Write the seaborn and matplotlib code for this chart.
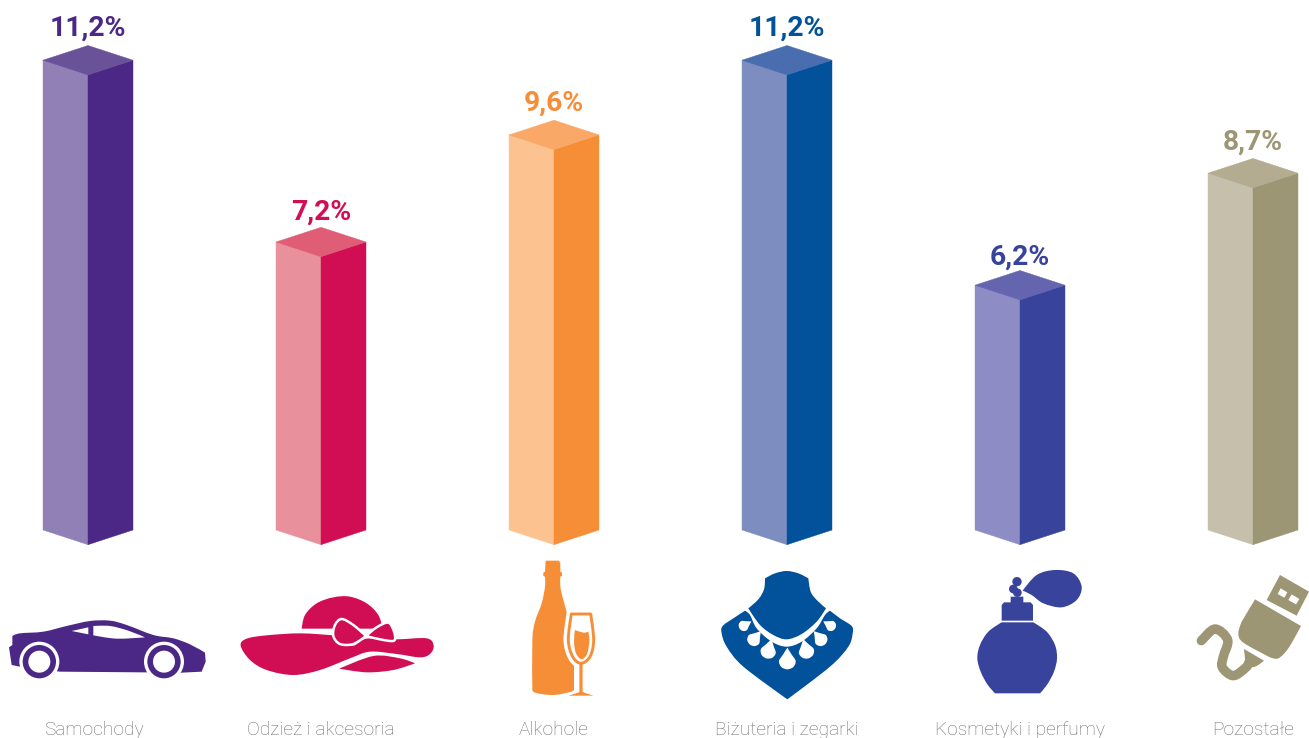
import numpy as np
import pandas as pd
import matplotlib
matplotlib.use("Agg")
import matplotlib.pyplot as plt
import seaborn as sns
from matplotlib.path import Path
from matplotlib.patches import PathPatch, Polygon, Circle
from matplotlib.transforms import Affine2D, ScaledTranslation

# ---------- data ----------
categories = ["Samochody", "Odzież i akcesoria", "Alkohole",
              "Biżuteria i zegarki", "Kosmetyki i perfumy", "Pozostałe"]
values = [11.2, 7.16, 9.54, 11.2, 6.2, 8.69]
value_labels = ["11,2%", "7,2%", "9,6%", "11,2%", "6,2%", "8,7%"]
light_colors = ["#9080B5", "#E8909B", "#FCC28F", "#7D8DC0", "#8E8CC5", "#C6BFAC"]
dark_colors = ["#4B2885", "#D10D53", "#F68E38", "#01519B", "#38439C", "#9D9674"]
top_colors = ["#6A5298", "#DF5E76", "#FAA867", "#4A6DAF", "#6564AF", "#B3AC90"]
label_gaps = [17, 15, 17, 17, 13, 16]

W, H = 1309, 738
BASE_PX = 530
PX_PER_UNIT = 45.0
Y_BASE = 0.76
SPACING = 233.0
FIRST_X = 88.0

sns.set_theme(style="white")
plt.rcParams["font.family"] = ["Roboto", "Liberation Sans", "DejaVu Sans"]

fig = plt.figure(figsize=(W / 100, H / 100), dpi=100, facecolor="white")
ax = fig.add_axes([0, (H - BASE_PX) / H, 1, BASE_PX / H])
df = pd.DataFrame({"category": categories, "value": values})
sns.barplot(data=df, x="category", y="value", hue="category",
            palette=light_colors, width=90 / SPACING, legend=False,
            linewidth=0, saturation=1, ax=ax)
ax.set_xlim(-FIRST_X / SPACING, (W - FIRST_X) / SPACING)
ax.set_ylim(Y_BASE, Y_BASE + BASE_PX / PX_PER_UNIT)
ax.set_xlabel("")
ax.set_ylabel("")
ax.yaxis.set_visible(False)
for s in ax.spines.values():
    s.set_visible(False)
ax.set_facecolor("none")
ax.tick_params(axis="x", length=0, pad=(721 - BASE_PX) * 0.72, labelsize=13.8,
               labelcolor="#6E6E6E")
for lbl in ax.get_xticklabels():
    lbl.set_fontweight("light")
first = ax.get_xticklabels()[0]
first.set_transform(first.get_transform() + ScaledTranslation(6 / 100, 0, fig.dpi_scale_trans))

depth = 14.7 / PX_PER_UNIT
for patch, val, lab, gap, lc, dc, tc in zip(ax.patches, values, value_labels, label_gaps,
                                            light_colors, dark_colors, top_colors):
    x0 = patch.get_x()
    w = patch.get_width()
    xc = x0 + w / 2
    x1 = x0 + w
    faces = [
        ([(x0, Y_BASE), (xc, Y_BASE - depth), (xc, val - depth), (x0, val)], lc),
        ([(xc, Y_BASE - depth), (x1, Y_BASE), (x1, val), (xc, val - depth)], dc),
        ([(x0, val), (xc, val + depth), (x1, val), (xc, val - depth)], tc),
    ]
    for pts, col in faces:
        ax.add_patch(Polygon(pts, closed=True, facecolor=col, edgecolor=col,
                             linewidth=0.3, clip_on=False, zorder=3))
    ax.text(xc, val + depth + gap / PX_PER_UNIT, lab, ha="center", va="center",
            fontsize=20.3, fontweight="bold", color=dc, zorder=4)


# ---------- pictograms (decoration, drawn in pixel space) ----------
px = Affine2D().scale(1, -1).translate(0, H)


def split(pts):
    xy = np.array([p[:2] for p in pts], float)
    corner = np.array([len(p) > 2 for p in pts])
    return xy, corner


def smooth_path(xy, corner, closed=True):
    n = len(xy)
    tang = np.zeros_like(xy)
    for i in range(n):
        if corner[i]:
            continue
        if closed:
            tang[i] = (xy[(i + 1) % n] - xy[i - 1]) / 6
        else:
            tang[i] = (xy[min(i + 1, n - 1)] - xy[max(i - 1, 0)]) / 6
    verts = [xy[0]]
    codes = [Path.MOVETO]
    for i in range(n if closed else n - 1):
        j = (i + 1) % n
        verts += [xy[i] + tang[i], xy[j] - tang[j], xy[j]]
        codes += [Path.CURVE4] * 3
    if closed:
        verts.append(xy[0])
        codes.append(Path.CLOSEPOLY)
    return Path(np.array(verts), codes)


def blob(pts, origin, color, edge="none", lw=0, z=5):
    xy, corner = split(pts)
    xy = xy / 3.0 + np.asarray(origin, float)
    fig.add_artist(PathPatch(smooth_path(xy, corner), facecolor=color, edgecolor=edge,
                             linewidth=lw, transform=px, zorder=z))


def stroke(pts, origin, color, lw, z=5, closed=False):
    xy, corner = split(pts)
    xy = xy / 3.0 + np.asarray(origin, float)
    fig.add_artist(PathPatch(smooth_path(xy, corner, closed), facecolor="none", edgecolor=color,
                             linewidth=lw, transform=px, zorder=z, capstyle="round",
                             joinstyle="round"))


def circ(c, r, origin, color, z=5):
    cx, cy = np.asarray(c, float) / 3.0 + np.asarray(origin, float)
    fig.add_artist(Circle((cx, cy), r / 3.0, facecolor=color, edgecolor="none",
                          transform=px, zorder=z))


def drop(c, r, angle, origin, color, z=6):
    shape = np.array([(0, -1.6), (0.5, -0.8), (1, 0), (0.72, 0.72), (0, 1),
                      (-0.72, 0.72), (-1, 0), (-0.5, -0.8)]) * r
    a = np.radians(angle)
    rot = np.array([[np.cos(a), -np.sin(a)], [np.sin(a), np.cos(a)]])
    pts = shape @ rot.T + np.asarray(c)
    blob([(pts[0, 0], pts[0, 1], 1)] + [tuple(p) for p in pts[1:]], origin, color, z=z)


WHITE = "white"
# Car
o = (0, 550)
col = dark_colors[0]
blob([(37, 258, 1), (60, 250), (130, 245), (200, 228), (270, 213), (330, 212), (380, 225),
      (460, 255), (520, 265), (570, 283), (615, 308, 1), (617, 335, 1), (605, 365, 1),
      (545, 368, 1), (180, 365, 1), (60, 350, 1), (35, 345, 1), (27, 292, 1), (37, 285, 1)], o, col)
blob([(215, 243, 1), (265, 232, 1), (265, 253, 1)], o, WHITE, z=6)
blob([(280, 228, 1), (330, 228), (385, 242), (435, 262, 1), (350, 266), (280, 256, 1)], o, WHITE, z=6)
for cx in (118, 492):
    circ((cx, 335), 60, o, WHITE, 6)
    circ((cx, 335), 50, o, col, 7)
    circ((cx, 335), 33, o, WHITE, 8)

# Hat
col = dark_colors[1]
blob([(905, 236, 1), (915, 195), (950, 160), (1000, 142), (1050, 140), (1100, 160),
      (1135, 195), (1148, 236, 1), (1000, 236, 1)], o, col)
blob([(722, 287), (740, 266), (800, 256), (900, 250), (1000, 256, 1), (1015, 282, 1), (1060, 287),
      (1100, 266), (1190, 268), (1280, 265), (1301, 287), (1290, 312), (1260, 322),
      (1190, 312), (1110, 305), (1050, 325), (960, 360), (880, 375), (800, 360), (750, 330)],
     o, col)
blob([(1018, 356, 1), (1120, 318), (1200, 325), (1245, 340, 1), (1180, 360), (1100, 367)], o, col)
blob([(1005, 225), (1025, 207), (1060, 225), (1098, 258, 1), (1060, 282), (1020, 282), (1000, 258)],
     o, col, edge=WHITE, lw=1.8, z=6)
blob([(1098, 258, 1), (1130, 232), (1165, 218), (1182, 245), (1182, 272), (1140, 268)],
     o, col, edge=WHITE, lw=1.8, z=6)

# Bottle and glass
o = (500, 550)
col = dark_colors[2]
blob([(137, 32, 1), (177, 32, 1), (181, 40, 1), (181, 65, 1), (186, 68, 1), (186, 78, 1),
      (181, 80, 1), (181, 110), (190, 150), (205, 205), (210, 240), (212, 300), (222, 345, 1),
      (222, 420, 1), (215, 425, 1), (160, 435), (105, 428), (97, 415, 1), (97, 270), (105, 215),
      (125, 160), (135, 110), (135, 80, 1), (130, 78, 1), (130, 68, 1), (135, 65, 1)], o, col)
g = [(214, 192, 1), (272, 192, 1), (281, 270), (270, 320), (243, 340), (218, 320), (205, 270)]
blob(g, o, WHITE, edge=WHITE, lw=7, z=5.5)
blob([(234, 340, 1), (252, 340, 1), (252, 440, 1), (205, 440, 1), (205, 428, 1), (234, 425, 1)],
     o, WHITE, z=5.5)
stroke(g, o, col, 2.1, 6, closed=True)
blob([(225, 240, 1), (250, 248), (265, 245, 1), (268, 270), (262, 310), (245, 328), (228, 310), (222, 275)],
     o, col, z=6)
stroke([(243, 340, 1), (243, 428, 1)], o, col, 2.3, 6)
blob([(205, 437, 1), (225, 431), (243, 424, 1), (262, 431), (280, 437, 1)], o, col, z=6)

# Necklace
col = dark_colors[3]
blob([(745, 175, 1), (775, 148), (792, 118), (795, 85, 1), (825, 70), (860, 63), (895, 70),
      (925, 85, 1), (932, 125), (950, 150), (978, 175, 1), (950, 215), (905, 252),
      (860, 268), (820, 255), (780, 225)], o, col)
blob([(735, 182, 1), (700, 205), (668, 228), (665, 250), (680, 290), (730, 350), (862, 448, 1),
      (990, 350), (1045, 290), (1058, 250), (1055, 228), (1020, 205), (990, 182, 1), (975, 195),
      (950, 235), (905, 275), (860, 290), (815, 275), (770, 235), (750, 195)], o, col)
for c, r, a in [((862, 333), 25, 0), ((805, 303), 23, 15), ((919, 303), 23, -15),
                ((762, 268), 20, 40), ((962, 268), 20, -40), ((732, 227), 16, 60),
                ((992, 227), 16, -60)]:
    drop(c, r, a, o, WHITE)

# Perfume
o = (930, 550)
col = dark_colors[4]
blob([(215, 217, 1), (310, 217, 1), (350, 245), (375, 285), (381, 325), (372, 365), (352, 403),
      (330, 430, 1), (195, 430, 1), (172, 403), (152, 365), (142, 325), (150, 285), (175, 245)], o, col)
blob([(222, 157, 1), (302, 157, 1), (309, 165, 1), (309, 212, 1), (215, 212, 1), (215, 165, 1)], o, col)
blob([(242, 140, 1), (280, 140, 1), (280, 160, 1), (242, 160, 1)], o, col)
circ((261, 95), 14, o, col)
circ((250, 117), 13, o, col)
circ((262, 128), 13, o, col)
blob([(278, 122, 1), (320, 75), (375, 60), (430, 70), (455, 110), (440, 150), (395, 172),
      (340, 160), (305, 135)], o, col)

# USB
col = dark_colors[5]
blob([(1050, 75, 1), (1137, 125, 1), (1100, 197, 1), (1010, 150, 1)], o, col)
blob([(1052, 115, 1), (1072, 127, 1), (1063, 143, 1), (1043, 132, 1)], o, WHITE, z=6)
blob([(1085, 133, 1), (1108, 147, 1), (1098, 163, 1), (1075, 150, 1)], o, WHITE, z=6)
blob([(975, 148, 1), (1113, 228, 1), (1075, 295), (1045, 325), (1020, 322, 1), (940, 278),
      (925, 250), (935, 215, 1)], o, col)
stroke([(814, 272), (855, 237), (893, 270), (880, 320), (877, 352), (910, 377), (948, 352), (958, 335)],
       o, col, 6.8)
blob([(942, 297, 1), (1002, 332, 1), (975, 350), (950, 345)], o, col)

fig.savefig("out.png", dpi=100)
